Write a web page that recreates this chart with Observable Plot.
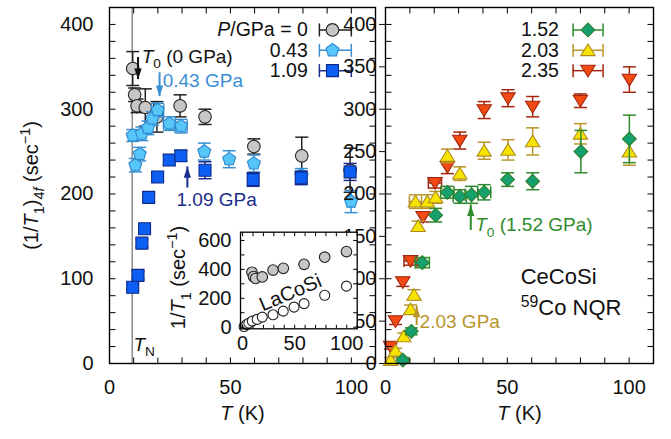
<!DOCTYPE html>
<html><head><meta charset="utf-8">
<script src="https://cdn.jsdelivr.net/npm/d3@7"></script>
<script src="https://cdn.jsdelivr.net/npm/@observablehq/plot@0.6"></script>
<style>
body{margin:0;background:#fff;}
#chart{position:relative;width:671px;height:439px;font-family:"Liberation Sans",Arial,Helvetica,sans-serif;}
#chart svg{position:absolute;overflow:visible;}
</style></head><body><div id="chart"></div>
<script>
// ---------------- data ----------------
// Left panel: P = 0 GPa (grey circles)
const p0_T    = [9.6, 10.4, 11.4, 14.8, 19.6, 29.2, 39.5, 59.7, 79.5, 99.5];
const p0_v    = [348, 317, 304, 302, 291, 304, 291, 256, 245, 228];
const p0_err  = [20, 8, 8, 22, 18, 13, 9, 9, 22, 26];
const p0_xerr = [0, 0, 0, 3.5, 0, 0, 0, 0, 0, 0];
// P = 0.43 GPa (light-blue pentagons)
const p043_T    = [9.6, 10.7, 12.5, 13.4, 15.9, 17.8, 19.9, 24.8, 29.6, 39.2, 49.5, 59.7, 79.3, 99.9];
const p043_v    = [269, 234, 247, 271, 278, 289, 299, 283, 280, 250, 241, 236, 222, 191];
const p043_err  = [7, 8, 8, 8, 8, 8, 8, 8, 8, 10, 10, 10, 8, 13];
const p043_xerr = [0, 0, 0, 0, 0, 0, 2.5, 2.5, 2.5, 0, 0, 0, 0, 0];
// P = 1.09 GPa (blue squares)
const p109_T    = [9.6, 11.8, 13.4, 14.5, 16.2, 19.9, 24.7, 29.5, 39.5, 59.4, 79.3, 99.5];
const p109_v    = [90, 104, 142, 159, 196, 220, 240, 245, 228, 217, 219, 226];
const p109_err  = [4, 5, 5, 5, 5, 5, 6, 6, 10, 8, 8, 10];
const p109_xerr = [0, 0, 0, 0, 0, 0, 0, 0, 0, 0, 0, 0];
// Right panel: P = 1.52 GPa (green diamonds)
const p152_T    = [7.1, 10.6, 15.1, 20.6, 25.4, 30.5, 35.3, 40.5, 50.1, 60.4, 80.2, 100.1];
const p152_v    = [4, 38, 119, 175, 202, 197, 199, 202, 217, 215, 250, 265];
const p152_err  = [3, 4, 6, 8, 7, 8, 10, 9, 8, 10, 25, 28];
const p152_xerr = [0, 0, 2.9, 0, 2.7, 2.7, 2.7, 2.7, 0, 0, 0, 0];
// P = 2.03 GPa (yellow triangles)
const p203_T    = [2.1, 4.1, 7.5, 10.3, 11.7, 12.3, 13.4, 17.2, 20.6, 25.4, 30.5, 40.5, 50.3, 60.4, 80, 100.1];
const p203_v    = [4, 15, 32, 64, 81, 191, 162, 191, 196, 245, 224, 251, 252, 262, 271, 250];
const p203_err  = [3, 3, 4, 5, 6, 8, 6, 8, 7, 8, 8, 10, 12, 16, 12, 16];
const p203_xerr = [0, 0, 0, 0, 0, 2.5, 0, 0, 0, 0, 0, 0, 0, 0, 0, 0];
// P = 2.35 GPa (red down triangles)
const p235_T    = [2.1, 4.1, 7.1, 10.3, 15.4, 20.3, 25.4, 30.5, 40.5, 50.3, 60.4, 80, 100.1];
const p235_v    = [20, 50, 96, 121, 173, 213, 232, 263, 299, 313, 303, 310, 335];
const p235_err  = [3, 4, 5, 5, 6, 6, 8, 10, 10, 10, 12, 8, 15];
const p235_xerr = [0, 0, 0, 2.7, 0, 2.7, 0, 0, 0, 0, 0, 0, 0];
// Inset: total 1/T1 of CeCoSi (0 GPa) and LaCoSi
const ce_T = [9.0, 10.5, 12.5, 18.9, 29.2, 39.1, 59, 78.8, 99.7];
const ce_v = [380, 350, 337, 348, 395, 407, 435, 484, 523];
const la_T = [1.5, 4, 6, 9.3, 14, 18.9, 29.2, 39, 49.4, 59, 78.8, 99.7];
const la_v = [5, 19, 28, 42, 54, 70, 86, 111, 139, 163, 221, 284];
const TN = 9.4;

const xTicksMajor = [0, 50, 100];
const yTicksMajor = [0, 100, 200, 300, 400];
const xTicksMinor = d3.range(0, 111, 10);
const yTicksMinor = d3.range(0, 421, 20);
const insetXTicks = [0, 50, 100];
const insetYTicks = [0, 200, 400, 600];
const insetXMinor = d3.range(0, 111, 10);
const insetYMinor = d3.range(0, 601, 100);
const legendLeftLabels  = ["<i>P</i>/GPa = 0", "0.43", "1.09"];
const legendRightLabels = ["1.52", "2.03", "2.35"];

// ---------------- helpers ----------------
const FONT = "'Liberation Sans', Arial, Helvetica, sans-serif";
const svgNS = "http://www.w3.org/2000/svg";
const sym = f => ({draw(c, size) { f(c, Math.sqrt(size / Math.PI)); }});
const symPent = sym((c, r) => { const R = r * 1.12; for (let k = 0; k < 5; k++) { const a = -Math.PI / 2 + k * 2 * Math.PI / 5; const x = R * Math.cos(a), y = R * Math.sin(a); if (k) c.lineTo(x, y); else c.moveTo(x, y); } c.closePath(); });
const symSquare = sym((c, r) => { const h = r * 0.92; c.moveTo(-h, -h); c.lineTo(h, -h); c.lineTo(h, h); c.lineTo(-h, h); c.closePath(); });
const symDiamond = sym((c, r) => { const h = r * 1.25; c.moveTo(0, -h); c.lineTo(h, 0); c.lineTo(0, h); c.lineTo(-h, 0); c.closePath(); });
const symTriUp = sym((c, r) => { const w = r * 1.2, h = r * 1.05; c.moveTo(0, -h); c.lineTo(w, h * 0.85); c.lineTo(-w, h * 0.85); c.closePath(); });
const symTriDown = sym((c, r) => { const w = r * 1.2, h = r * 1.05; c.moveTo(0, h); c.lineTo(w, -h * 0.85); c.lineTo(-w, -h * 0.85); c.closePath(); });
const symCapH = sym((c, r) => { c.moveTo(-r, 0); c.lineTo(r, 0); });
const symCapV = sym((c, r) => { c.moveTo(0, -r); c.lineTo(0, r); });
const symHeadUp = sym((c, r) => { c.moveTo(0, 0); c.lineTo(r * 0.33, r); c.lineTo(-r * 0.33, r); c.closePath(); });
const symHeadDown = sym((c, r) => { c.moveTo(0, 0); c.lineTo(r * 0.33, -r); c.lineTo(-r * 0.33, -r); c.closePath(); });
// inward tick marks (length = r)
const tickUp = sym((c, r) => { c.moveTo(0, 0); c.lineTo(0, -r); });
const tickDown = sym((c, r) => { c.moveTo(0, 0); c.lineTo(0, r); });
const tickRight = sym((c, r) => { c.moveTo(0, 0); c.lineTo(r, 0); });
const tickLeft = sym((c, r) => { c.moveTo(0, 0); c.lineTo(-r, 0); });

const S = (T, v, e, xe, o) => Object.assign({rows: T.map((t, i) => ({T: t, v: v[i], e: e[i], xe: xe[i]}))}, o);
const leftSeries = [
  S(p0_T, p0_v, p0_err, p0_xerr, {symbol: "circle", r: 6.3, fill: "#c6c6c6", stroke: "#222", bar: "#222"}),
  S(p043_T, p043_v, p043_err, p043_xerr, {symbol: symPent, r: 6.1, fill: "#55c6f7", stroke: "#2f87cf", bar: "#3a8fd3"}),
  S(p109_T, p109_v, p109_err, p109_xerr, {symbol: symSquare, r: 6.5, fill: "#0c5ff2", stroke: "#0d2a8a", bar: "#1b2d8c"})
];
const rightSeries = [
  S(p152_T, p152_v, p152_err, p152_xerr, {symbol: symDiamond, r: 5.5, fill: "#15a06e", stroke: "#2c7f2c", bar: "#2e8b2e"}),
  S(p203_T, p203_v, p203_err, p203_xerr, {symbol: symTriUp, r: 6, fill: "#f6e400", stroke: "#b08c1e", bar: "#b8952a"}),
  S(p235_T, p235_v, p235_err, p235_xerr, {symbol: symTriDown, r: 6, fill: "#f24a12", stroke: "#a3260e", bar: "#a3260e"})
];
const rightDraw = [rightSeries[2], rightSeries[1], rightSeries[0]];

function errMarks(s) {
  const d = s.rows, dx = d.filter(r => r.xe > 0);
  const st = {stroke: s.bar, strokeWidth: 1.5, fill: "none"};
  return [
    Plot.ruleX(d, {x: "T", y1: r => r.v - r.e, y2: r => r.v + r.e, ...st}),
    Plot.ruleY(dx, {y: "v", x1: r => r.T - r.xe, x2: r => r.T + r.xe, ...st}),
    Plot.dot(d, {x: "T", y: r => r.v + r.e, symbol: symCapH, r: 6.5, ...st}),
    Plot.dot(d, {x: "T", y: r => r.v - r.e, symbol: symCapH, r: 6.5, ...st}),
    Plot.dot(dx, {x: r => r.T - r.xe, y: "v", symbol: symCapV, r: 6, ...st}),
    Plot.dot(dx, {x: r => r.T + r.xe, y: "v", symbol: symCapV, r: 6, ...st})
  ];
}
function pointMarks(s) {
  return [Plot.dot(s.rows, {x: "T", y: "v", symbol: s.symbol, r: s.r, fill: s.fill, stroke: s.stroke, strokeWidth: 1.1})];
}
const legendY = [393.5, 369.5, 345.5];
function legendMarks(series, labels, textX, markX, bar) {
  const out = [];
  series.forEach((s, i) => {
    const row = [{y: legendY[i], label: labels[i]}];
    const st = {stroke: s.bar, strokeWidth: 1.5, fill: "none"};
    out.push(
      Plot.ruleY(row, {y: "y", x1: () => bar[0], x2: () => bar[1], ...st}),
      Plot.dot(row, {x: () => bar[0], y: "y", symbol: symCapV, r: 6.5, ...st}),
      Plot.dot(row, {x: () => bar[1], y: "y", symbol: symCapV, r: 6.5, ...st}),
      Plot.dot(row, {x: () => markX, y: "y", symbol: s.symbol, r: s.r, fill: s.fill, stroke: s.stroke, strokeWidth: 1.1}),
      Plot.text(row, {x: () => textX, y: "y", text: "label", textAnchor: "end", fontSize: 19.5, fill: "#111"})
    );
  });
  return out;
}
function arrowMarks(list) {
  return list.flatMap(a => [
    Plot.ruleX([a], {x: "x", y1: "y1", y2: "y2", stroke: a.color, strokeWidth: 2}),
    Plot.dot([a], {x: "x", y: "y2", symbol: a.y2 > a.y1 ? symHeadUp : symHeadDown, r: 11, fill: a.color, stroke: "none"})
  ]);
}
function noteMarks(list) {
  return list.map(n => Plot.text([n], {x: "x", y: "y", text: "text", textAnchor: "start", fill: n.color, fontSize: n.size || 19}));
}
function tickMarks(xt, yt, len) {
  const st = {r: len, stroke: "#000", strokeWidth: 1, fill: "none"};
  return [
    Plot.dot(xt, {x: d => d, frameAnchor: "bottom", symbol: tickUp, ...st}),
    Plot.dot(xt, {x: d => d, frameAnchor: "top", symbol: tickDown, ...st}),
    Plot.dot(yt, {y: d => d, frameAnchor: "left", symbol: tickRight, ...st}),
    Plot.dot(yt, {y: d => d, frameAnchor: "right", symbol: tickLeft, ...st})
  ];
}
function frameAxes(opts) {
  const m = [
    ...tickMarks(xTicksMinor, yTicksMinor, 6),
    Plot.axisX({anchor: "bottom", ticks: xTicksMajor, tickSize: 0, tickPadding: 16, fontSize: 20, label: null}),
    Plot.frame({stroke: "#000", strokeWidth: 1.4}),
    Plot.text(["<i>T</i> (K)"], {frameAnchor: "bottom", textAnchor: "middle", dy: 56, text: d => d, fontSize: 20, fill: "#111"})
  ];
  if (opts.yLabels) m.push(
    Plot.axisY({anchor: "left", ticks: yTicksMajor, tickSize: 0, tickPadding: 16, fontSize: 20, label: null}),
    Plot.text(["(1/<i>T</i><sub>1</sub>)<sub>4<i>f</i></sub> (sec<sup>\u22121</sup>)"], {frameAnchor: "left", textAnchor: "middle", rotate: -90, dx: -78, text: d => d, fontSize: 20, fill: "#111"})
  );
  return m;
}
function richify(root) {
  root.querySelectorAll("text").forEach(t => {
    const s = t.textContent;
    if (!s.includes("<")) return;
    const fs = parseFloat(getComputedStyle(t).fontSize) || 20;
    while (t.firstChild) t.removeChild(t.firstChild);
    let italic = false, level = 0, cur = 0;
    const re = /<(\/?)(i|sub|sup)>|([^<]+)/g; let m;
    while ((m = re.exec(s))) {
      if (m[3] !== undefined) {
        const ts = document.createElementNS(svgNS, "tspan");
        ts.textContent = m[3];
        if (italic) ts.setAttribute("font-style", "italic");
        const target = level < 0 ? fs * 0.28 : level > 0 ? -fs * 0.38 : 0;
        if (target !== cur) { ts.setAttribute("dy", (target - cur).toFixed(2)); cur = target; }
        if (level !== 0) ts.setAttribute("font-size", (fs * 0.72).toFixed(1));
        t.appendChild(ts);
      } else {
        const close = m[1] === "/";
        if (m[2] === "i") italic = !close; else level = close ? 0 : (m[2] === "sub" ? -1 : 1);
      }
    }
  });
}

// ---------------- annotations ----------------
const leftArrows = [
  {x: 11.8, y1: 361, y2: 335, color: "#111"},
  {x: 20.7, y1: 343, y2: 315, color: "#3a8fd3"},
  {x: 32.2, y1: 207, y2: 232, color: "#1b2d8c"}
];
const leftNotes = [
  {x: 13.3, y: 362, text: "<i>T</i><sub>0</sub> (0 GPa)", color: "#111"},
  {x: 22.0, y: 333, text: "0.43 GPa", color: "#3a8fd3"},
  {x: 27.7, y: 193, text: "1.09 GPa", color: "#1b2d8c"},
  {x: 9.9, y: 22, text: "<i>T</i><sub>N</sub>", color: "#111"}
];
const rightArrows = [
  {x: 35, y1: 157, y2: 187, color: "#2e8b2e"},
  {x: 12.8, y1: 45, y2: 67.5, color: "#b8952a"}
];
const rightNotes = [
  {x: 36.8, y: 163, text: "<i>T</i><sub>0</sub> (1.52 GPa)", color: "#2e8b2e"},
  {x: 14.0, y: 49, text: "2.03 GPa", color: "#b8952a"},
  {x: 55.5, y: 102, text: "CeCoSi", color: "#111", size: 22},
  {x: 55.5, y: 65, text: "<sup>59</sup>Co NQR", color: "#111", size: 22}
];

const common = {height: 439, marginTop: 7, marginBottom: 76, x: {domain: [0, 110], label: null}, y: {domain: [0, 420], label: null},
  style: {background: "transparent", overflow: "visible", fontFamily: FONT, fontSize: "20px", color: "#111"}};

const leftPlot = Plot.plot({...common, width: 380, marginLeft: 109, marginRight: 5,
  marks: [
    Plot.ruleX([TN], {x: d => d, stroke: "#8c8c8c", strokeWidth: 1.5}),
    ...leftSeries.flatMap(s => [...errMarks(s), ...pointMarks(s)]),
    ...arrowMarks(leftArrows),
    ...noteMarks(leftNotes),
    ...legendMarks(leftSeries, legendLeftLabels, 82, 92.2, [86.8, 100]),
    ...frameAxes({yLabels: true})
  ]});

const rightPlot = Plot.plot({...common, width: 291, marginLeft: 5, marginRight: 18,
  marks: [
    ...rightDraw.flatMap(s => [...errMarks(s), ...pointMarks(s)]),
    ...arrowMarks(rightArrows),
    ...noteMarks(rightNotes),
    ...legendMarks(rightSeries, legendRightLabels, 71.2, 83.1, [77, 89.3]),
    ...frameAxes({yLabels: false})
  ]});

const ceRows = ce_T.map((t, i) => ({T: t, v: ce_v[i]}));
const laRows = la_T.map((t, i) => ({T: t, v: la_v[i]}));
const insetPlot = Plot.plot({
  width: 205, height: 135, marginLeft: 80, marginRight: 8.3, marginTop: 9.7, marginBottom: 28.7,
  x: {domain: [-2, 110], label: null}, y: {domain: [-11, 657], label: null},
  style: {background: "transparent", overflow: "visible", fontFamily: FONT, fontSize: "20px", color: "#111"},
  marks: [
    Plot.frame({fill: "white"}),
    Plot.dot(ceRows, {x: "T", y: "v", r: 5.3, fill: "#c6c6c6", stroke: "#222", strokeWidth: 1.1}),
    Plot.dot(laRows, {x: "T", y: "v", r: 5, fill: "white", stroke: "#222", strokeWidth: 1.1}),
    Plot.text(["LaCoSi"], {x: () => 46, y: () => 238, rotate: -23, textAnchor: "middle", text: d => d, fontSize: 20, fill: "#111"}),
    ...tickMarks(insetXMinor, insetYMinor, 4),
    Plot.axisX({anchor: "bottom", ticks: insetXTicks, tickSize: 0, tickPadding: 7, fontSize: 20, label: null}),
    Plot.axisY({anchor: "left", ticks: insetYTicks, tickSize: 0, tickPadding: 9, fontSize: 20, label: null}),
    Plot.frame({stroke: "#000", strokeWidth: 1.3}),
    Plot.text(["1/<i>T</i><sub>1</sub> (sec<sup>\u22121</sup>)"], {frameAnchor: "left", textAnchor: "middle", rotate: -90, dx: -62, dy: -3, text: d => d, fontSize: 20, fill: "#111"})
  ]});

const chart = document.getElementById("chart");
[[leftPlot, 0, 0], [rightPlot, 380, 0], [insetPlot, 160, 222]].forEach(([p, l, t]) => {
  p.style.left = l + "px"; p.style.top = t + "px"; p.style.position = "absolute";
  chart.appendChild(p);
  richify(p);
});
</script></body></html>
